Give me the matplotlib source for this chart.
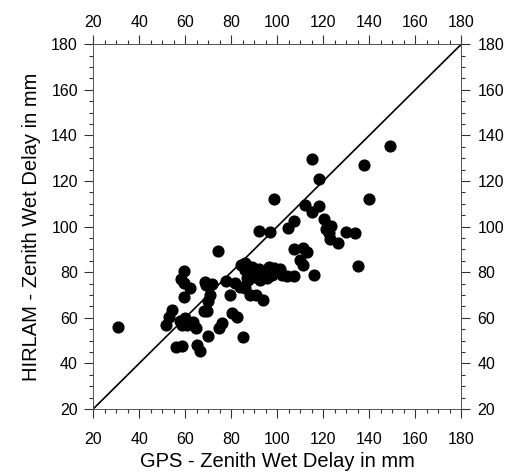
import matplotlib.pyplot as plt
from matplotlib.ticker import MultipleLocator

plt.rcParams['font.family'] = ['Liberation Sans', 'DejaVu Sans']

# GPS zenith wet delay (mm)
gps = [31, 54.2, 52.8, 51.5,
       59.6, 58.2, 59.6, 62.2, 59.6,
       57.8, 60, 58.6, 60.7, 63.6, 64.9,
       55.8, 58.7, 65.1, 66.6, 69.7,
       68.7, 69.1, 71.8, 70.6, 70.1, 69.4, 68,
       74.3,
       77.6, 81.7, 79.3, 80.3, 82.7, 75.9, 74.9, 85.3,
       84.2, 86, 88, 83.9, 86.1, 87.5, 88.2, 90.8,
       91.9, 97, 98.4,
       86.1, 86.8, 89, 90.4, 92, 92.6, 94.8, 95.5, 96.2, 97.7, 98.4, 101, 102,
       104.2, 107.1, 94,
       104.5, 107.4, 107.4, 111.4, 112.9, 109.7, 111.2, 116.1,
       112.2, 118, 114.9, 120.4, 123.3, 121.3, 122.3, 123, 126.2, 129.8, 133.9,
       115.3, 118, 137.5, 139.7, 149.1, 135.3]

# HIRLAM zenith wet delay (mm)
hirlam = [56, 63.5, 60.3, 56.8,
          80.3, 76.9, 75.1, 72.9, 69.2,
          58.5, 59.8, 56.8, 56.8, 58.2, 55.4,
          47, 47.6, 48, 45.4, 52,
          75.8, 74.2, 75, 70, 67.2, 62.9, 62.9,
          89.3,
          76, 75.2, 70.2, 61.9, 60.5, 57.8, 55.6, 51.4,
          83, 83.9, 81.7, 73.6, 72.9, 76.6, 70, 70,
          98.1, 97.7, 112,
          80.9, 77.3, 82.4, 78, 81.5, 76.6, 80.2, 77.3, 82.4, 78.7, 81.7, 81.2, 78.7,
          78.3, 78.3, 67.8,
          99.3, 102.5, 90.2, 90.5, 89, 85.3, 83.1, 78.7,
          109.4, 109, 106.2, 103.4, 100.2, 98.8, 97, 94.4, 92.9, 97.7, 97,
          129.8, 120.7, 127, 111.9, 135.3, 82.8]

fig = plt.figure(figsize=(5.12, 4.75), dpi=100)
ax = fig.add_axes([0.182, 0.139, 0.719, 0.768])

ax.plot([20, 180], [20, 180], color='black', lw=1.2)
ax.scatter(gps, hirlam, s=60, color='black', zorder=3)

ax.set_xlim(20, 180)
ax.set_ylim(20, 180)

# top and right axes as separate axes so their label gaps differ
top = ax.secondary_xaxis('top')
right = ax.secondary_yaxis('right')

for axis in (ax.xaxis, ax.yaxis, top.xaxis, right.yaxis):
    axis.set_major_locator(MultipleLocator(20))
    axis.set_minor_locator(MultipleLocator(5))

for a in (ax, top, right):
    a.tick_params(which='both', direction='out', labelsize=11.5,
                  width=0.8, color='#333333')
    a.tick_params(which='major', length=6.5)
    a.tick_params(which='minor', length=3)
    for s in a.spines.values():
        s.set_linewidth(0.7)
        s.set_color('#555555')

ax.tick_params(axis='x', which='major', pad=10)
ax.tick_params(axis='y', which='major', pad=4.5)
top.tick_params(which='major', pad=4)
right.tick_params(which='major', pad=5)

ax.set_xlabel('GPS - Zenith Wet Delay in mm', fontsize=14.5, labelpad=4)
ax.set_ylabel('HIRLAM - Zenith Wet Delay in mm', fontsize=14.5, labelpad=7)

fig.savefig('out.png', dpi=100)
